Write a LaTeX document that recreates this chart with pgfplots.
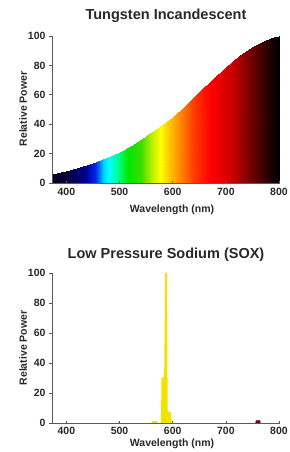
\documentclass[border=0pt]{standalone}
\usepackage{pgfplots}
\pgfplotsset{compat=1.18}
\usepackage{fontspec}
\setmainfont{Liberation Sans}
\definecolor{axgray}{RGB}{90,90,90}
\definecolor{txt}{RGB}{40,40,40}
\definecolor{sodium}{RGB}{245,225,0}
\definecolor{sodiumdim}{RGB}{225,225,60}
\definecolor{deepred}{RGB}{110,0,30}
\definecolor{specky}{RGB}{120,230,210}
\pgfplotsset{
  colormap={spec}{
    rgb255(373pt)=(10,0,35)
    rgb255(400pt)=(10,0,60)
    rgb255(435pt)=(0,0,140)
    rgb255(455pt)=(0,40,240)
    rgb255(470pt)=(0,210,255)
    rgb255(480pt)=(0,255,255)
    rgb255(495pt)=(0,255,150)
    rgb255(515pt)=(0,230,0)
    rgb255(540pt)=(60,220,0)
    rgb255(562pt)=(190,240,0)
    rgb255(578pt)=(255,255,0)
    rgb255(592pt)=(255,200,0)
    rgb255(612pt)=(255,140,0)
    rgb255(640pt)=(255,60,0)
    rgb255(670pt)=(255,0,0)
    rgb255(710pt)=(205,0,0)
    rgb255(750pt)=(110,0,0)
    rgb255(780pt)=(35,0,0)
    rgb255(800pt)=(0,0,0)
  },
  common/.style={
    scale only axis, width=227pt, height=147pt,
    xmin=373, xmax=800, ymin=0, ymax=100,
    axis lines*=left, axis on top,
    axis line style={axgray, line width=0.8pt},
    xtick={400,500,600,700,800}, ytick={0,20,40,60,80,100},
    tick style={axgray, line width=0.6pt},
    major tick length=3pt,
    ytick align=outside,
    xtick align=center,
    tick label style={font=\bfseries\fontsize{10.5}{10.5}\selectfont, text=txt},
    /pgf/number format/assume math mode=true,
    xticklabel style={yshift=-0.5pt},
  },
}
\begin{document}
\begin{tikzpicture}[x=1pt,y=1pt]
\useasboundingbox (0,0) rectangle (289,452);
% top chart
\begin{axis}[common, at={(52pt,269pt)}, anchor=south west]
\addplot[surf, shader=interp, mesh/rows=2, point meta=x, colormap name=spec,
  point meta min=373, point meta max=800] coordinates {
  (373,0) (400,0) (425,0) (450,0) (475,0) (500,0) (525,0) (550,0) (575,0)
  (600,0) (625,0) (650,0) (675,0) (700,0) (725,0) (750,0) (775,0) (790,0) (800,0)
  (373,6) (400,8.5) (425,11) (450,13.5) (475,17) (500,21) (525,26) (550,32) (575,38)
  (600,45) (625,53) (650,62) (675,71) (700,79) (725,86.5) (750,92.5) (775,97) (790,99.5) (800,100)
};
\end{axis}
\node[font=\bfseries\fontsize{14.5}{14.5}\selectfont, text=txt] at (166,436.5) {Tungsten Incandescent};
\node[font=\bfseries\fontsize{10.5}{10.5}\selectfont, text=txt] at (172,242) {Wavelength (nm)};
\node[font=\bfseries\fontsize{10.5}{10.5}\selectfont, text=txt, rotate=90] at (23,343) {Relative Power};
% bottom chart
\begin{axis}[common, at={(52pt,29pt)}, anchor=south west, height=150pt,
  xticklabel style={yshift=1pt}]
\addplot[fill=sodium, draw=none] coordinates {
  (578,0) (579,30) (584,31) (586,100) (589.5,100) (590.5,8) (597,7) (598,0)} \closedcycle;
\addplot[fill=sodiumdim, draw=none] coordinates {
  (560,0) (562,1.2) (570,1.2) (572,0)} \closedcycle;
\addplot[fill=specky, draw=none] coordinates {
  (496,0) (497,0.6) (500,0.6) (501,0)} \closedcycle;
\addplot[fill=deepred, draw=deepred] coordinates {
  (756,0) (757,1.6) (764,1.6) (765,0)} \closedcycle;
\end{axis}
\node[font=\bfseries\fontsize{14.5}{14.5}\selectfont, text=txt] at (166,197) {Low Pressure Sodium (SOX)};
\node[font=\bfseries\fontsize{10.5}{10.5}\selectfont, text=txt] at (172,8.5) {Wavelength (nm)};
\node[font=\bfseries\fontsize{10.5}{10.5}\selectfont, text=txt, rotate=90] at (23,104) {Relative Power};
\end{tikzpicture}
\end{document}
